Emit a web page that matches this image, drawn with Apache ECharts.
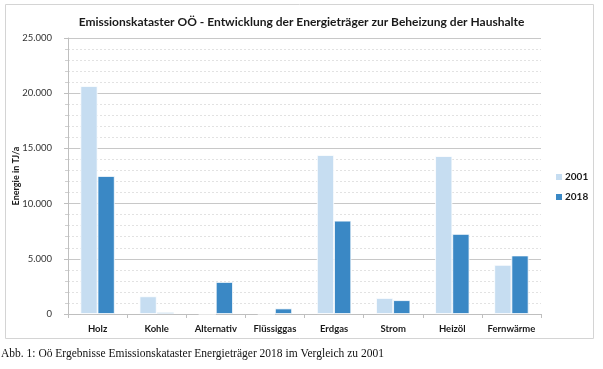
<!DOCTYPE html>
<html><head><meta charset="utf-8">
<script src="https://cdn.jsdelivr.net/npm/echarts@6/dist/echarts.min.js"></script>
<style>html,body{margin:0;padding:0;background:#fff}#c{width:603px;height:369px}</style>
</head><body><div id="c"></div>
<script>
const categories = ['Holz','Kohle','Alternativ','Flüssiggas','Erdgas','Strom','Heizöl','Fernwärme'];
const values2001 = [20650, 1600, 0, 0, 14400, 1450, 14300, 4450];
const values2018 = [12500, 150, 2900, 500, 8450, 1250, 7250, 5300];
const seriesNames = ['2001','2018'];
const titleText = 'Emissionskataster OÖ - Entwicklung der Energieträger zur Beheizung der Haushalte';
const yAxisName = 'Energie in TJ/a';
const captionText = 'Abb. 1: Oö Ergebnisse Emissionskataster Energieträger 2018 im Vergleich zu 2001';

const chart = echarts.init(document.getElementById('c'), null, {renderer:'canvas'});
const F = 'Lato, "Open Sans", sans-serif';
chart.setOption({
  animation:false,
  backgroundColor:'#fff',
  title:{text:titleText,left:'center',top:11,textStyle:{fontFamily:F,fontSize:12,fontWeight:'bold',color:'#1a1a1a'}},
  graphic:[
    {type:'rect',shape:{x:5.5,y:4.5,width:588,height:334},style:{fill:'none',stroke:'#d4d4d4',lineWidth:1},z:-1},
    {type:'text',left:1,top:348,style:{text:captionText,font:'11.5px "Liberation Serif", "Times New Roman", serif',fill:'#111'}}
  ],
  legend:{orient:'vertical',left:549,top:167,itemWidth:8,itemHeight:8,itemGap:10,icon:'rect',
    textStyle:{fontFamily:F,fontSize:10,fontWeight:'bold',color:'#1a1a1a',padding:[0,0,0,-3]}},
  grid:{left:68,right:62,top:38,bottom:55,containLabel:false},
  xAxis:{type:'category',data:categories,
    axisLine:{lineStyle:{color:'#bfbfbf'}},
    axisTick:{show:true,length:4,lineStyle:{color:'#bfbfbf'}},
    axisLabel:{interval:0,hideOverlap:false,fontFamily:F,fontSize:9.5,fontWeight:'bold',color:'#1a1a1a',margin:10}},
  yAxis:{type:'value',min:0,max:25000,interval:5000,
    name:yAxisName,nameLocation:'middle',nameGap:47,nameRotate:90,nameMoveOverlap:false,
    nameTextStyle:{fontFamily:F,fontSize:9,fontWeight:'bold',color:'#1a1a1a'},
    axisLine:{show:true,lineStyle:{color:'#bfbfbf'}},
    axisTick:{show:true,length:4,lineStyle:{color:'#bfbfbf'}},
    minorTick:{show:true,splitNumber:5,length:3,lineStyle:{color:'#d0d0d0'}},
    axisLabel:{fontFamily:F,fontSize:9.5,color:'#333',margin:16,
      formatter:v=>v===0?'0':String(v).replace(/\B(?=(\d{3})+(?!\d))/g,'.')},
    splitLine:{lineStyle:{color:'#c8c8c8',width:1}},
    minorSplitLine:{show:true,lineStyle:{color:'#e2e2e2',type:[2,2]}}},
  series:[
    {name:seriesNames[0],type:'bar',data:values2001,barGap:'0%',barCategoryGap:'42%',
     itemStyle:{color:'#c6ddf1',borderColor:'#ffffff',borderWidth:0.8}},
    {name:seriesNames[1],type:'bar',data:values2018,
     itemStyle:{color:'#3a88c5',borderColor:'#ffffff',borderWidth:0.8}}
  ]
});
</script></body></html>
